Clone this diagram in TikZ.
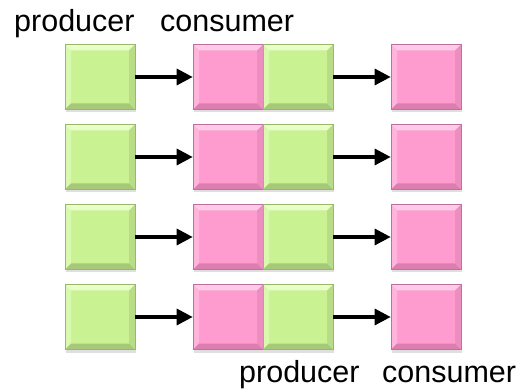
\documentclass[tikz,border=0pt]{standalone}
\usepackage{fontspec}
\setmainfont{Liberation Sans}
\usetikzlibrary{arrows.meta,shadows}

\definecolor{greenface}{HTML}{C9F293}
\definecolor{greenlight}{HTML}{E9FFC9}
\definecolor{greendark}{HTML}{A6C878}
\definecolor{greenline}{HTML}{9AB86A}
\definecolor{pinkface}{HTML}{FF9CCF}
\definecolor{pinklight}{HTML}{FFCBE8}
\definecolor{pinkdark}{HTML}{DC7FB0}
\definecolor{pinkline}{HTML}{C26E9C}

\begin{document}
\begin{tikzpicture}
			[x=1pt, y=-1pt,
			label/.style ={inner sep=0pt, anchor=base west, font=\fontsize{30.5}{34}\selectfont},
			box/.style ={rectangle, minimum width=70pt, minimum height=65pt, inner sep=0pt, fill=#1face, draw=#1line, line width=0.6pt,
				drop shadow={shadow xshift=1pt, shadow yshift=-3pt, opacity=0.25},
				path picture={
					\fill[#1light] (path picture bounding box.north west) -- (path picture bounding box.north east)
						-- ([shift={(-6pt,-6pt)}]path picture bounding box.north east) -- ([shift={(6pt,-6pt)}]path picture bounding box.north west) -- cycle;
					\fill[#1light!50!#1face] (path picture bounding box.north west) -- ([shift={(6pt,-6pt)}]path picture bounding box.north west)
						-- ([shift={(6pt,6pt)}]path picture bounding box.south west) -- (path picture bounding box.south west) -- cycle;
					\fill[#1dark] (path picture bounding box.south west) -- ([shift={(6pt,6pt)}]path picture bounding box.south west)
						-- ([shift={(-6pt,6pt)}]path picture bounding box.south east) -- (path picture bounding box.south east) -- cycle;
					\fill[#1dark!50!#1face] (path picture bounding box.south east) -- ([shift={(-6pt,6pt)}]path picture bounding box.south east)
						-- ([shift={(-6pt,-6pt)}]path picture bounding box.north east) -- (path picture bounding box.north east) -- cycle;
				}},
			link/.style ={-{Triangle[length=16pt,width=16pt]}, line width=3.2pt}]
			\useasboundingbox (0,0) rectangle (525,390);

			\node [label] (prodtop) at (14,32) {producer};
			\node [label] (constop) at (160,32) {consumer};
			\node [label] (prodbot) at (239,382) {producer};
			\node [label] (consbot) at (382,382) {consumer};

			\foreach \r/\y in {1/77,2/157,3/237,4/317} {
				\node [box=green] (prodA\r) at (100,\y) {};
				\node [box=pink] (consA\r) at (228,\y) {};
				\node [box=green] (prodB\r) at (298,\y) {};
				\node [box=pink] (consB\r) at (426,\y) {};
				\draw [link] (prodA\r.east) -- (consA\r.west);
				\draw [link] (prodB\r.east) -- (consB\r.west);
			}
		\end{tikzpicture}
\end{document}
